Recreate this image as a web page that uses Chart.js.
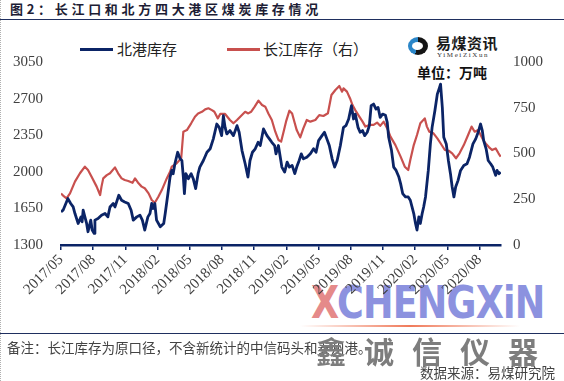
<!DOCTYPE html>
<html><head><meta charset="utf-8">
<script src="https://cdn.jsdelivr.net/npm/chart.js@4"></script>
<style>
html,body{margin:0;padding:0;background:#fff;}
body{width:564px;height:381px;position:relative;overflow:hidden;font-family:"Noto Sans CJK SC",sans-serif;}
.abs{position:absolute;white-space:nowrap;}
#c{position:absolute;left:0;top:0;}
</style></head><body>
<div class="abs" style="left:0;top:0;width:0;height:381px;border-left:1px dotted #b0b0b0"></div>
<div class="abs" style="left:10px;top:0px;font-size:13px;font-weight:700;letter-spacing:3.7px;color:#1d1d35;line-height:17px">图2：长江口和北方四大港区煤炭库存情况</div>
<div class="abs" style="left:0;top:19px;width:564px;height:0;border-top:1.5px solid #1f2f5f"></div>

<!-- legend -->
<div class="abs" style="left:80px;top:48px;width:33px;height:3px;background:#0b2466"></div>
<div class="abs" style="left:117px;top:39px;font-size:15px;line-height:20px;color:#222">北港库存</div>
<div class="abs" style="left:227px;top:48px;width:33px;height:2.5px;background:#c8504e"></div>
<div class="abs" style="left:263px;top:39px;font-size:15px;line-height:20px;color:#222">长江库存（右）</div>

<!-- logo -->
<div class="abs" style="left:408px;top:37px;width:20px;height:18px;border-radius:50%;background:conic-gradient(from 200deg,#2b86c8 0 45%,#151515 45% 100%)"></div>
<div class="abs" style="left:412px;top:42px;width:11px;height:8px;border-radius:50%;background:#fff"></div>
<div class="abs" style="left:436px;top:34px;font-size:15px;font-weight:700;line-height:18px;color:#1a1a1a;letter-spacing:0.5px">易煤资讯</div>
<div class="abs" style="left:437px;top:51px;font-size:7px;line-height:8px;font-family:'Liberation Serif',serif;color:#333;letter-spacing:1.6px">YiMeiZiXun</div>
<div class="abs" style="left:417px;top:63px;font-size:14px;font-weight:700;line-height:18px;color:#111">单位：万吨</div>

<!-- watermark (beneath chart) -->
<div class="abs" style="left:311px;top:278px;font-size:44px;font-weight:700;font-family:'DejaVu Sans',sans-serif;line-height:50px;transform:scaleX(0.83);transform-origin:left top;letter-spacing:-1px"><span style="color:#e58a8a">X</span><span style="color:#8c92df">CHENGXiN</span></div>
<div class="abs" style="left:300px;top:325px;width:220px;height:2px;background:linear-gradient(to right,rgba(240,120,90,0),#f07a5a,rgba(240,120,90,0))"></div>

<canvas id="c" width="564" height="381"></canvas>

<!-- footer -->
<div class="abs" style="left:0;top:333px;width:564px;height:0;border-top:1.5px solid #1f2f5f"></div>
<div class="abs" style="left:7px;top:338px;font-size:13.5px;line-height:18px;color:#444">备注：长江库存为原口径，不含新统计的中信码头和泰州港。</div>
<div class="abs" style="left:316px;top:330px;font-size:30px;line-height:40px;color:#7d7d7d;letter-spacing:18px;font-weight:700">鑫诚信仪器</div>
<div class="abs" style="right:9px;top:363px;font-size:13.5px;line-height:18px;color:#444">数据来源：易煤研究院</div>

<script>
const tickLabels = ['2017/05','2017/08','2017/11','2018/02','2018/05','2018/08','2018/11','2019/02','2019/05','2019/08','2019/11','2020/02','2020/05','2020/08'];
const leftTicks = [1300,1650,2000,2350,2700,3050];
const rightTicks = [0,250,500,750,1000];

const northDates = ['2017-05-01','2017-05-07','2017-05-21','2017-05-29','2017-06-05','2017-06-10','2017-06-19','2017-06-27','2017-06-30','2017-07-03','2017-07-08','2017-07-13','2017-07-17','2017-07-25','2017-07-29','2017-08-04','2017-08-06','2017-08-15','2017-08-25','2017-09-04','2017-09-12','2017-09-18','2017-09-27','2017-10-02','2017-10-13','2017-10-21','2017-10-30','2017-11-09','2017-11-17','2017-11-23','2017-12-03','2017-12-12','2017-12-19','2017-12-26','2018-01-04','2018-01-10','2018-01-15','2018-01-19','2018-01-24','2018-01-29','2018-02-08','2018-02-17','2018-02-21','2018-02-28','2018-03-06','2018-03-11','2018-03-15','2018-03-20','2018-03-28','2018-04-04','2018-04-09','2018-04-13','2018-04-16','2018-04-20','2018-04-27','2018-05-05','2018-05-11','2018-05-18','2018-05-25','2018-05-30','2018-06-09','2018-06-19','2018-06-28','2018-07-07','2018-07-17','2018-07-24','2018-07-31','2018-08-05','2018-08-10','2018-08-15','2018-08-24','2018-09-03','2018-09-13','2018-09-19','2018-09-27','2018-10-06','2018-10-14','2018-10-20','2018-10-27','2018-11-04','2018-11-12','2018-11-18','2018-11-27','2018-12-07','2018-12-14','2018-12-21','2018-12-29','2019-01-02','2019-01-09','2019-01-19','2019-01-27','2019-02-03','2019-02-09','2019-02-16','2019-02-23','2019-02-28','2019-03-07','2019-03-13','2019-03-19','2019-03-29','2019-04-08','2019-04-17','2019-04-24','2019-05-01','2019-05-11','2019-05-18','2019-05-25','2019-06-01','2019-06-09','2019-06-16','2019-06-23','2019-07-02','2019-07-11','2019-07-18','2019-07-26','2019-08-03','2019-08-09','2019-08-14','2019-08-22','2019-08-28','2019-09-04','2019-09-10','2019-09-17','2019-09-23','2019-09-28','2019-10-05','2019-10-12','2019-10-18','2019-10-24','2019-10-31','2019-11-08','2019-11-13','2019-11-17','2019-11-25','2019-12-01','2019-12-08','2019-12-16','2019-12-21','2019-12-27','2020-01-04','2020-01-12','2020-01-18','2020-01-23','2020-01-28','2020-02-02','2020-02-06','2020-02-11','2020-02-15','2020-02-20','2020-02-24','2020-02-29','2020-03-08','2020-03-14','2020-03-19','2020-03-27','2020-04-03','2020-04-09','2020-04-12','2020-04-17','2020-04-21','2020-04-28','2020-05-04','2020-05-10','2020-05-15','2020-05-20','2020-05-25','2020-06-01','2020-06-08','2020-06-17','2020-06-26','2020-07-03','2020-07-13','2020-07-21','2020-07-28','2020-08-04','2020-08-09','2020-08-13','2020-08-20','2020-08-26','2020-09-02','2020-09-08','2020-09-16','2020-09-20','2020-09-25','2020-09-30'];
const northValues = [1617,1633,1744,1697,1664,1601,1506,1569,1522,1633,1569,1506,1427,1538,1443,1411,1538,1554,1585,1601,1569,1664,1697,1664,1776,1728,1712,1697,1633,1538,1569,1585,1538,1443,1569,1601,1697,1649,1697,1538,1474,1506,1604,1792,1950,2013,1982,2077,2187,2124,2108,1950,1792,1982,1934,1982,1934,1839,1982,2045,2108,2187,2220,2315,2457,2425,2346,2536,2425,2362,2394,2346,2441,2378,2203,2077,1950,2108,2187,2220,2282,2251,2410,2346,2315,2282,2251,2172,2251,2045,1997,2092,2045,2061,1982,2045,2108,2172,2124,2140,2172,2220,2187,2298,2346,2378,2315,2251,2124,2045,2108,2251,2425,2441,2505,2632,2505,2552,2425,2378,2394,2346,2378,2441,2632,2648,2600,2615,2520,2552,2540,2473,2330,2203,2045,2013,1950,1887,1792,1760,1760,1728,1664,1601,1506,1443,1569,1506,1601,1664,1760,2013,2267,2425,2584,2743,2805,2838,2615,2330,2267,2108,1982,1855,1760,1855,1918,2013,2061,2077,2140,2267,2315,2378,2457,2394,2298,2220,2108,2077,2045,1966,2013,1982,1997];

const yangtzeDates = ['2017-05-01','2017-05-07','2017-05-17','2017-05-27','2017-06-10','2017-06-24','2017-07-08','2017-07-17','2017-07-27','2017-08-11','2017-08-21','2017-08-25','2017-08-30','2017-09-09','2017-09-18','2017-10-02','2017-10-11','2017-10-21','2017-10-30','2017-11-09','2017-11-21','2017-11-28','2017-12-08','2017-12-17','2017-12-26','2018-01-06','2018-01-15','2018-01-24','2018-02-03','2018-02-12','2018-02-25','2018-03-06','2018-03-11','2018-03-25','2018-04-07','2018-04-13','2018-04-23','2018-05-05','2018-05-16','2018-05-25','2018-06-05','2018-06-14','2018-06-23','2018-07-03','2018-07-10','2018-07-20','2018-07-27','2018-08-10','2018-08-24','2018-09-03','2018-09-13','2018-09-22','2018-10-06','2018-10-15','2018-10-23','2018-11-02','2018-11-13','2018-11-23','2018-12-02','2018-12-11','2018-12-21','2018-12-31','2019-01-09','2019-01-17','2019-01-24','2019-01-31','2019-02-09','2019-02-16','2019-02-23','2019-02-28','2019-03-10','2019-03-19','2019-03-29','2019-04-08','2019-04-22','2019-05-03','2019-05-15','2019-05-28','2019-06-07','2019-06-18','2019-06-29','2019-07-07','2019-07-11','2019-07-21','2019-07-30','2019-08-06','2019-08-14','2019-08-23','2019-09-04','2019-09-12','2019-09-23','2019-10-05','2019-10-15','2019-10-24','2019-11-03','2019-11-13','2019-11-22','2019-12-06','2019-12-21','2020-01-02','2020-01-12','2020-01-18','2020-01-28','2020-02-06','2020-02-15','2020-02-27','2020-03-04','2020-03-11','2020-03-23','2020-04-03','2020-04-12','2020-04-24','2020-05-05','2020-05-15','2020-05-26','2020-06-05','2020-06-17','2020-06-29','2020-07-09','2020-07-18','2020-07-28','2020-08-09','2020-08-18','2020-08-28','2020-09-06','2020-09-16','2020-09-24','2020-09-30'];
const yangtzeValues = [282,270,255,282,346,392,428,410,374,319,273,319,364,382,392,424,392,364,355,350,340,364,337,319,310,282,246,231,264,300,364,400,428,446,474,619,628,665,701,719,728,741,747,737,728,692,716,716,683,665,683,701,728,719,728,755,789,765,756,719,683,619,574,565,619,674,734,719,665,628,588,637,683,674,683,710,705,720,820,847,869,838,856,838,801,765,737,710,674,647,656,656,669,651,674,637,592,546,483,428,410,464,546,601,665,692,647,619,610,583,556,519,515,501,474,501,546,601,647,619,628,583,556,535,519,528,501,483];

const axisStart = '2017/05';
const axisEnd = '2020/10';

function monthIndex(s){
  const p = s.split(/[-\/]/).map(Number);
  const y = p[0], m = p[1], d = p[2] || 1;
  const dim = new Date(Date.UTC(y, m, 0)).getUTCDate();
  const s0 = axisStart.split('/').map(Number);
  return (y - s0[0]) * 12 + (m - s0[1]) + (d - 1) / dim;
}

const NAVY = '#0b2466';
const RED = '#c8504e';
const tickFont = {family: "'Liberation Serif', 'Times New Roman', serif", size: 15};

new Chart(document.getElementById('c'), {
  type: 'line',
  data: {
    datasets: [
      {label: '北港库存', data: northDates.map((d, i) => ({x: monthIndex(d), y: northValues[i]})),
       yAxisID: 'yL', borderColor: NAVY, borderWidth: 2.8, pointRadius: 0, tension: 0, borderJoinStyle: 'round', fill: false},
      {label: '长江库存（右）', data: yangtzeDates.map((d, i) => ({x: monthIndex(d), y: yangtzeValues[i]})),
       yAxisID: 'yR', borderColor: RED, borderWidth: 2.2, pointRadius: 0, tension: 0, borderJoinStyle: 'round', fill: false}
    ]
  },
  options: {
    responsive: false, animation: false,
    layout: {padding: {top: 62, left: 0, right: 0, bottom: 0}},
    plugins: {legend: {display: false}, tooltip: {enabled: false}},
    scales: {
      x: {
        type: 'linear', min: monthIndex(axisStart), max: monthIndex(axisEnd),
        afterBuildTicks: s => { s.ticks = tickLabels.map(l => ({value: monthIndex(l)})); },
        ticks: {autoSkip: false, maxRotation: 45, minRotation: 45, padding: 1, font: tickFont, color: '#404040',
                callback: (v, i) => tickLabels[i]},
        grid: {display: true, drawOnChartArea: false, drawTicks: true, tickLength: 5, color: NAVY, lineWidth: 1.5},
        border: {display: true, color: NAVY, width: 2.5},
        afterFit: s => { s.height = 136; }
      },
      yL: {
        position: 'left', min: leftTicks[0], max: leftTicks[leftTicks.length - 1],
        afterBuildTicks: s => { s.ticks = leftTicks.map(v => ({value: v})); },
        ticks: {font: tickFont, color: '#404040', padding: 18, callback: v => String(v)},
        grid: {display: false, drawTicks: false}, border: {display: false},
        afterFit: s => { s.width = 61; }
      },
      yR: {
        position: 'right', min: rightTicks[0], max: rightTicks[rightTicks.length - 1],
        afterBuildTicks: s => { s.ticks = rightTicks.map(v => ({value: v})); },
        ticks: {font: tickFont, color: '#404040', padding: 12, callback: v => String(v)},
        grid: {display: false, drawTicks: false}, border: {display: false},
        afterFit: s => { s.width = 63; }
      }
    }
  }
});
</script>
</body></html>
